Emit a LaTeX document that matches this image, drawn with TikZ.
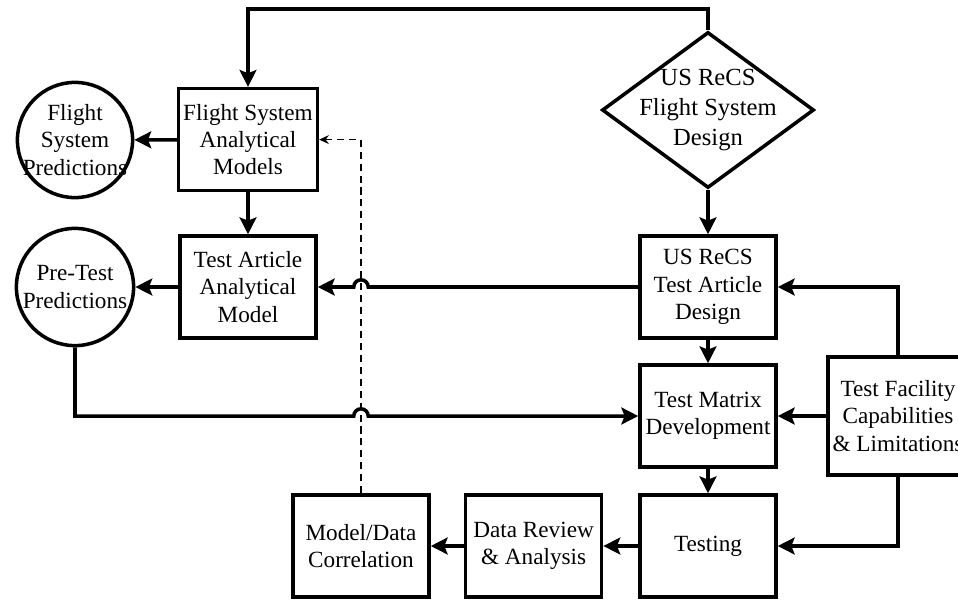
\documentclass[tikz,border=0pt]{standalone}
\usepackage{fontspec}
\setmainfont{Liberation Serif}
\usetikzlibrary{shapes.geometric, arrows.meta}

\begin{document}
\begin{tikzpicture}[bx/.style={draw, line width=2.5pt, minimum width=3.4cm,
		minimum height=2.55cm, align=center, font=\fontsize{16.5}{19.5}\selectfont},
	crc/.style={draw, circle, line width=2.5pt, inner sep=-1cm, align=center,
		font=\fontsize{16.5}{19.5}\selectfont},
	dmd/.style={draw, diamond, line width=2.5pt, inner sep=-1cm, minimum width=5.3cm,
		minimum height=3.9cm, align=center, font=\fontsize{17.5}{21.5}\selectfont},
	arr/.style={line width=2.5pt, -{Stealth[length=0.42cm, width=0.42cm, inset=0.08cm]}},
	dsh/.style={line width=0.9pt, dash pattern=on 5pt off 3.5pt,
		-{Stealth[length=0.24cm, width=0.22cm]}}]
	\useasboundingbox (0,0) rectangle (23.95,-15);
	\node [bx] (fsm) at (6.2,-3.49) {Flight System\\Analytical\\Models};
	\node [bx] (tam) at (6.2,-7.175) {Test Article\\Analytical\\Model};
	\node [crc, minimum size=2.88cm] (fsp) at (1.875,-3.5) {Flight\\System\\Predictions};
	\node [crc, minimum size=2.93cm] (ptp) at (1.875,-7.175) {Pre-Test\\Predictions};
	\node [dmd] (fsd) at (17.7,-2.75) {US ReCS\\Flight System\\Design};
	\node [bx] (tad) at (17.7,-7.175) {US ReCS\\Test Article\\Design};
	\node [bx] (tmd) at (17.7,-10.4) {Test Matrix\\Development};
	\node [bx, minimum width=3.43cm, minimum height=2.95cm] (tfc) at (22.45,-10.4)
		{Test Facility\\Capabilities\\\& Limitations};
	\node [bx] (tst) at (17.7,-13.65) {Testing};
	\node [bx] (dra) at (13.34,-13.65) {Data Review\\\& Analysis};
	\node [bx] (mdc) at (9.025,-13.65) {Model/Data\\Correlation};
	\coordinate (h1) at (mdc.north |- tad.west);
	\coordinate (h2) at (mdc.north |- tmd.west);
	\draw [arr] (fsd.north) -- ++(0,0.525) -| (fsm.north);
	\draw [arr] (fsm) -- (fsp);
	\draw [arr] (fsm) -- (tam);
	\draw [arr] (tam) -- (ptp);
	\draw [arr] (fsd) -- (tad);
	\draw [arr] (tad.west) -- ([xshift=0.18cm]h1) arc [start angle=0, end angle=180,
		radius=0.18cm] -- (tam.east);
	\draw [arr] (ptp.south) |- ([xshift=-0.18cm]h2) arc [start angle=180, end angle=0,
		radius=0.18cm] -- (tmd.west);
	\draw [arr] (tad) -- (tmd);
	\draw [arr] (tfc.north) |- (tad.east);
	\draw [arr] (tfc) -- (tmd);
	\draw [arr] (tmd) -- (tst);
	\draw [arr] (tfc.south) |- (tst.east);
	\draw [arr] (tst) -- (dra);
	\draw [arr] (dra) -- (mdc);
	\draw [dsh] (mdc.north) |- (fsm.east);
\end{tikzpicture}
\end{document}
